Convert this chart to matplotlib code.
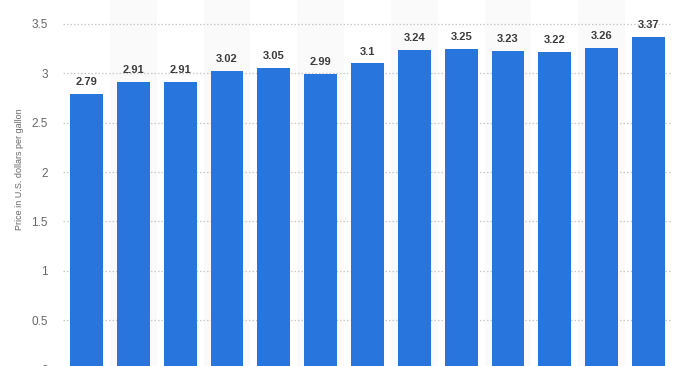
import numpy as np
import matplotlib
matplotlib.use('Agg')
import matplotlib.pyplot as plt

plt.rcParams['font.family'] = ['Liberation Sans', 'DejaVu Sans']

# average gas price per gallon, one bar per period (x labels cut off)
periods = list(range(13))
prices = [2.79, 2.91, 2.91, 3.02, 3.05, 2.99, 3.1, 3.24, 3.25, 3.23, 3.22, 3.26, 3.37]
yticks = [0, 0.5, 1, 1.5, 2, 2.5, 3, 3.5]
ylabel = "Price in U.S. dollars per gallon"

W, H = 699, 366
fig = plt.figure(figsize=(W / 100, H / 100), dpi=100)
# axes bottom sits a few pixels below the picture edge, like the original crop
ax_bot, ax_top = 369.5, 0.0
ax = fig.add_axes([63 / W, (H - ax_bot) / H, 609 / W, (ax_bot - ax_top) / H])

px_per_unit = (ax_bot - 24.0) / 3.5
ax.set_ylim(0, (ax_bot - ax_top) / px_per_unit)
ax.set_xlim(-0.5, len(periods) - 0.5)

# alternating light column stripes
for i in periods:
    if i % 2 == 1:
        ax.axvspan(i - 0.5, i + 0.5, color='#fafafa', zorder=0, lw=0)

ax.set_yticks(yticks)
ax.set_yticklabels(['0' if v == 0 else ('%g' % v) for v in yticks])
ax.yaxis.grid(True, color='#c8c8c8', linestyle=(0, (1.2, 1.6)), linewidth=0.9, zorder=1)
ax.set_axisbelow(True)

bars = ax.bar(periods, prices, width=0.70, color='#2876dd', zorder=2)
for b, v in zip(bars, prices):
    ax.annotate('%g' % v, (b.get_x() + b.get_width() / 2, v),
                xytext=(0, 5), textcoords='offset points',
                ha='center', va='bottom', fontsize=8, fontweight='bold',
                color='#3c3c3c')

for s in ax.spines.values():
    s.set_visible(False)
ax.tick_params(axis='both', length=0)
ax.tick_params(axis='y', pad=11, labelsize=8.5, labelcolor='#666666')
ax.set_xticks([])

fig.text(20 / W, 1 - 169 / H, ylabel, rotation=90, ha='center', va='center',
         fontsize=6.5, color='#666666')

fig.savefig('out.png', dpi=100)
